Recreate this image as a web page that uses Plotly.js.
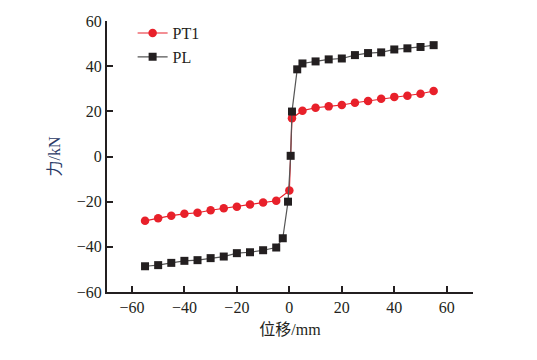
<!DOCTYPE html>
<html>
<head>
<meta charset="utf-8">
<script src="https://cdn.plot.ly/plotly-3.0.1.min.js"></script>
<style>html,body{margin:0;padding:0;background:#fff;}#chart{width:537px;height:360px;}</style>
</head>
<body>
<div id="chart"></div>
<script>
const pt1X = [-55,-50,-45,-40,-35,-30,-25,-20,-15,-10,-5,0,1,5,10,15,20,25,30,35,40,45,50,55];
const pt1Y = [-28.5,-27.3,-26.2,-25.4,-24.9,-23.8,-22.9,-22.2,-21.3,-20.4,-19.6,-15.1,16.9,20.3,21.6,22.2,22.8,23.8,24.6,25.6,26.4,26.9,27.8,29.0];
const plX = [-55,-50,-45,-40,-35,-30,-25,-20,-15,-10,-5,-2.5,-0.5,0.5,1,3,5,10,15,20,25,30,35,40,45,50,55];
const plY = [-48.6,-48.1,-47.1,-46.2,-45.9,-45.0,-44.3,-42.8,-42.4,-41.5,-40.3,-36.2,-20.0,0.3,19.9,38.6,41.2,42.1,43.0,43.4,44.9,45.8,46.1,47.4,47.9,48.5,49.3];
const xTicks = [-60,-40,-20,0,20,40,60];
const yTicks = [-60,-40,-20,0,20,40,60];

const data = [
  {x: pt1X, y: pt1Y, name: 'PT1', mode: 'lines+markers', type: 'scatter',
   line: {color: '#e8202a', width: 1.2},
   marker: {symbol: 'circle', size: 8.5, color: '#e8202a'}},
  {x: plX, y: plY, name: 'PL', mode: 'lines+markers', type: 'scatter',
   line: {color: '#555555', width: 1.2},
   marker: {symbol: 'square', size: 8, color: '#231f20'}}
];

const serif = '"Liberation Serif", "Noto Sans CJK SC", serif';
const layout = {
  width: 537, height: 360,
  margin: {l: 107, r: 64, t: 21, b: 68},
  paper_bgcolor: '#fff', plot_bgcolor: '#fff',
  font: {family: serif, size: 16, color: '#231f20'},
  showlegend: true,
  legend: {x: 0.07, y: 1.018, xanchor: 'left', yanchor: 'top', bgcolor: 'rgba(0,0,0,0)',
           font: {family: '"Liberation Serif", serif', size: 16, color: '#231f20'},
           itemwidth: 30, tracegroupgap: 0},
  xaxis: {range: [-69.5, 70], tickvals: xTicks, ticktext: xTicks.map(v => v < 0 ? '\u2212' + (-v) : String(v)),
          showgrid: false, zeroline: false, showline: true, linecolor: '#231f20', linewidth: 2,
          ticks: 'inside', ticklen: 6, tickwidth: 2, tickcolor: '#231f20',
          tickfont: {family: serif, size: 16, color: '#231f20'},
          title: {text: '位移/mm', font: {family: serif, size: 16, color: '#231f20'}, standoff: 9}},
  yaxis: {range: [-60, 60], tickvals: yTicks, ticktext: yTicks.map(v => v < 0 ? '\u2212' + (-v) : String(v)),
          showgrid: false, zeroline: false, showline: true, linecolor: '#231f20', linewidth: 2,
          ticks: 'inside', ticklen: 6, tickwidth: 2, tickcolor: '#231f20',
          tickfont: {family: serif, size: 16, color: '#231f20'},
          title: {text: '力/kN', font: {family: serif, size: 16, color: '#2b3a67'}, standoff: 12}}
};
Plotly.newPlot('chart', data, layout, {displayModeBar: false, staticPlot: true});
</script>
</body>
</html>
